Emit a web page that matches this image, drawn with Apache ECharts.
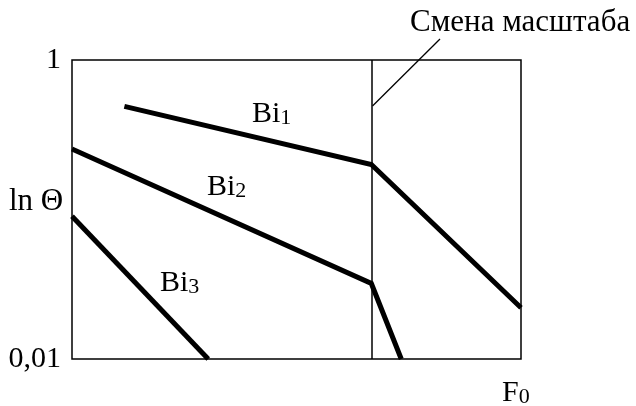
<!DOCTYPE html>
<html>
<head>
<meta charset="utf-8">
<script src="https://cdn.jsdelivr.net/npm/echarts@6/dist/echarts.min.js"></script>
<style>
  html, body { margin: 0; padding: 0; background: #fff; }
  #chart { width: 636px; height: 406px; }
</style>
</head>
<body>
<div id="chart"></div>
<script>
// Cooling curves: ln Θ against Fourier number F0 for three Biot numbers
const bi1 = [[0.35, 0.49], [2.0, 0.2], [3.0, 0.022]];
const bi2 = [[0.0, 0.254], [2.0, 0.032], [2.2, 0.01]];
const bi3 = [[0.0, 0.09], [0.91, 0.01]];
const scaleChangeF0 = 2.0;
const yTickValues = [0.01, 1];
const yTickLabels = ['0,01', '1'];

const SERIF = 'Liberation Serif, Times New Roman, serif';

const chart = echarts.init(document.getElementById('chart'), null, { renderer: 'canvas' });

const curve = (name, data) => ({
  name,
  type: 'line',
  data,
  symbol: 'none',
  clip: false,
  animation: false,
  lineStyle: { color: '#000', width: 5, cap: 'butt', join: 'miter' }
});

const subText = (main, sub, x, y) => ({
  type: 'text',
  style: {
    x, y,
    text: '{b|' + main + '}{s|' + sub + '}',
    verticalAlign: 'middle',
    rich: {
      b: { fontFamily: SERIF, fontSize: 30, fill: '#000' },
      s: { fontFamily: SERIF, fontSize: 22, fill: '#000', verticalAlign: 'bottom', padding: [6, 0, 0, 0] }
    }
  }
});

chart.setOption({
  animation: false,
  backgroundColor: '#fff',
  grid: { left: 72, top: 60, right: 115, bottom: 47, show: true, borderColor: '#000', borderWidth: 1.5 },
  xAxis: {
    type: 'value', min: 0, max: 3,
    axisLine: { show: false }, axisTick: { show: false },
    axisLabel: { show: false }, splitLine: { show: false }
  },
  yAxis: {
    type: 'log', logBase: 10, min: 0.01, max: 1,
    axisLine: { show: false }, axisTick: { show: false }, splitLine: { show: false },
    axisLabel: {
      margin: 11,
      fontFamily: SERIF, fontSize: 30, color: '#000',
      formatter: v => {
        const i = yTickValues.findIndex(t => Math.abs(t - v) < 1e-9);
        return i >= 0 ? yTickLabels[i] : '';
      }
    }
  },
  series: [
    Object.assign(curve('Bi1', bi1), {
      markLine: {
        silent: true, symbol: ['none', 'none'], label: { show: false },
        lineStyle: { color: '#000', width: 1.5, type: 'solid' },
        data: [{ xAxis: scaleChangeF0 }]
      }
    }),
    curve('Bi2', bi2),
    curve('Bi3', bi3)
  ],
  graphic: [
    subText('Bi', '1', 252, 114),
    subText('Bi', '2', 207, 187),
    subText('Bi', '3', 160, 283),
    { type: 'text', style: { x: 9, y: 202, text: 'ln Θ', verticalAlign: 'middle', font: '31px ' + SERIF, fill: '#000' } },
    {
      type: 'text',
      style: {
        x: 502, y: 393, text: '{b|F}{s|0}', verticalAlign: 'middle',
        rich: {
          b: { fontFamily: SERIF, fontSize: 30, fill: '#000' },
          s: { fontFamily: SERIF, fontSize: 22, fill: '#000', verticalAlign: 'bottom' }
        }
      }
    },
    { type: 'text', style: { x: 410, y: 23, text: 'Смена масштаба', verticalAlign: 'middle', font: '31px ' + SERIF, fill: '#000' } },
    { type: 'line', shape: { x1: 372.5, y1: 106, x2: 440, y2: 39 }, style: { stroke: '#000', lineWidth: 1.3 } }
  ]
});
</script>
</body>
</html>
